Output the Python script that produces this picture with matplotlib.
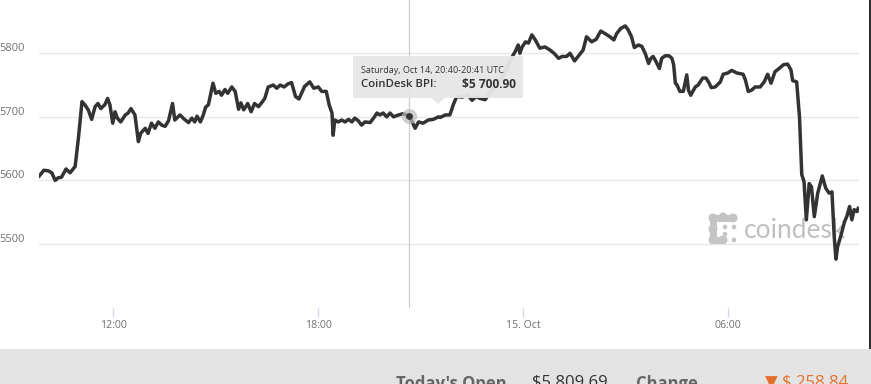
import matplotlib
matplotlib.use("Agg")
import matplotlib.pyplot as plt
from matplotlib.patches import Rectangle, Polygon, Circle
from matplotlib.transforms import ScaledTranslation

plt.rcParams['font.family'] = ['Open Sans', 'DejaVu Sans']

# minutes since 2017-10-14 00:00 UTC
minutes = [590, 598, 606, 612, 618, 623, 629, 637, 644, 653, 659, 665, 670, 676, 682, 688, 693, 698,
           705, 710, 714, 719, 723, 727, 733, 741, 746, 751, 758, 764, 768, 776, 781, 787, 793, 799,
           805, 811, 817, 824, 828, 837, 845, 852, 858, 863, 867, 873, 878, 882, 887, 895, 900, 906,
           910, 916, 921, 928, 934, 940, 944, 949, 956, 962, 968, 975, 982, 986, 992, 1001, 1007,
           1013, 1020, 1027, 1033, 1040, 1046, 1056, 1065, 1072, 1080, 1086, 1094, 1099, 1104, 1106,
           1109, 1115, 1121, 1127, 1133, 1139, 1144, 1150, 1156, 1162, 1171, 1177, 1183, 1188, 1194,
           1200, 1206, 1212, 1221, 1229, 1240, 1250, 1256, 1264, 1273, 1282, 1291, 1294, 1303, 1311,
           1317, 1323, 1332, 1343, 1350, 1357, 1364, 1373, 1382, 1394, 1405, 1414, 1422, 1426, 1431,
           1434, 1438, 1444, 1449, 1455, 1461, 1469, 1478, 1487, 1494, 1502, 1508, 1516, 1522, 1530,
           1538, 1545, 1551, 1560, 1568, 1576, 1587, 1592, 1599, 1604, 1611, 1619, 1624, 1630, 1635,
           1642, 1648, 1654, 1660, 1664, 1668, 1673, 1679, 1683, 1689, 1696, 1701, 1704, 1707, 1710,
           1715, 1721, 1727, 1730, 1734, 1742, 1747, 1755, 1761, 1767, 1770, 1777, 1786, 1791, 1799,
           1806, 1815, 1826, 1830, 1835, 1841, 1847, 1856, 1863, 1869, 1875, 1882, 1889, 1897, 1904,
           1910, 1913, 1920, 1925, 1929, 1933, 1937, 1942, 1946, 1951, 1957, 1965, 1971, 1977, 1982,
           1986, 1989, 1992, 1998, 2004, 2008, 2013, 2017, 2021, 2026, 2028]
prices = [5607, 5616, 5615, 5612, 5600, 5604, 5605, 5618, 5612, 5622, 5669, 5724, 5719, 5711, 5696,
          5716, 5721, 5713, 5719, 5729, 5719, 5690, 5708, 5698, 5692, 5703, 5706, 5713, 5703, 5661,
          5674, 5682, 5674, 5690, 5682, 5692, 5687, 5685, 5694, 5721, 5695, 5703, 5696, 5691, 5698,
          5692, 5701, 5692, 5703, 5715, 5719, 5753, 5737, 5740, 5734, 5743, 5737, 5747, 5740, 5712,
          5722, 5711, 5721, 5708, 5721, 5716, 5724, 5729, 5747, 5750, 5745, 5750, 5747, 5752, 5754,
          5732, 5728, 5748, 5755, 5745, 5747, 5740, 5740, 5719, 5706, 5671, 5695, 5692, 5695, 5692,
          5696, 5692, 5698, 5694, 5687, 5692, 5691, 5698, 5706, 5703, 5706, 5700, 5706, 5700, 5703,
          5705, 5700.9, 5682, 5692, 5690, 5695, 5696, 5700, 5699, 5703, 5703, 5719, 5732, 5731, 5734,
          5726, 5732, 5729, 5727, 5739, 5750, 5766, 5782, 5797, 5803, 5813, 5800, 5810, 5818, 5816,
          5829, 5821, 5808, 5810, 5805, 5800, 5792, 5795, 5795, 5800, 5788, 5797, 5805, 5826, 5818,
          5822, 5835, 5829, 5826, 5821, 5831, 5839, 5843, 5837, 5826, 5809, 5813, 5811, 5800, 5784,
          5792, 5795, 5787, 5776, 5792, 5796, 5796, 5792, 5782, 5753, 5750, 5740, 5740, 5766, 5742,
          5734, 5747, 5750, 5761, 5761, 5752, 5746, 5747, 5755, 5767, 5769, 5773, 5769, 5767, 5758,
          5740, 5742, 5747, 5747, 5755, 5767, 5753, 5771, 5776, 5782, 5783, 5774, 5757, 5755, 5700,
          5609, 5598, 5538, 5595, 5590, 5543, 5580, 5607, 5588, 5580, 5582, 5511, 5476, 5496, 5514,
          5535, 5543, 5559, 5538, 5554, 5551, 5556]

y_ticks = [5500, 5600, 5700, 5800]
x_ticks = [720, 1080, 1440, 1800]
x_tick_labels = ["12:00", "18:00", "15. Oct", "06:00"]

hover_minute = 1240
hover_price = 5700.90
tooltip_title = "Saturday, Oct 14, 20:40-20:41 UTC"
tooltip_series = "CoinDesk BPI:"
tooltip_value = "$5 700.90"

footer_labels = ["Today's Open", "Change"]
footer_values = ["$5 809.69", "▼ $ 258.84"]

W, H = 871, 384
fig = plt.figure(figsize=(W / 100, H / 100), dpi=100)
fig.patch.set_facecolor('white')

def fx(px):
    return px / W

def fy(py):
    return 1 - py / H

ax = fig.add_axes([fx(39), fy(308), fx(820), 308 / H])
ax.set_xlim(589.5, 2029.5)
ax.set_ylim(5399.3, 5883.8)
for s in ax.spines.values():
    s.set_visible(False)

ax.set_yticks(y_ticks)
ax.set_yticklabels([str(v) for v in y_ticks])
ax.yaxis.grid(True, color='#e6e6e6', linewidth=0.9)
ax.set_axisbelow(True)
ax.tick_params(axis='y', length=0, pad=10.5, labelsize=8, labelcolor='#707070')
for lab in ax.get_yticklabels():
    lab.set_transform(lab.get_transform() + ScaledTranslation(0, 6 / 100, fig.dpi_scale_trans))

ax.set_xticks(x_ticks)
ax.set_xticklabels(x_tick_labels)
ax.tick_params(axis='x', length=6.5, width=0.9, color='#ccd6eb', pad=2,
               labelsize=7.6, labelcolor='#707070')

# crosshair
ax.axvline(hover_minute, color='#cccccc', linewidth=0.9, zorder=1)

# watermark (drawn before line)
wm_ax = fig.add_axes([0, 0, 1, 1], zorder=0.5)
wm_ax.set_xlim(0, W)
wm_ax.set_ylim(H, 0)
wm_ax.axis('off')
big = [(713, 218), (723, 217), (733, 218), (713, 229), (713, 240), (723, 240)]
small = [(725, 227), (725, 234), (734, 227), (734, 240)]
wm_ax.plot([713, 733], [218, 218], color='#c4c4c4', linewidth=5, solid_capstyle='round')
wm_ax.plot([713, 713], [218, 240], color='#c4c4c4', linewidth=5, solid_capstyle='round')
wm_ax.plot([713, 723], [240, 240], color='#c4c4c4', linewidth=5, solid_capstyle='round')
for (cx, cy) in big:
    wm_ax.add_patch(Circle((cx, cy), 3.8, color='#c4c4c4'))
for (cx, cy) in small:
    wm_ax.add_patch(Circle((cx, cy), 1.6, color='#c4c4c4'))
wm_ax.text(744, 230, "coindesk", fontsize=19, color='#c0c0c0', ha='left', va='center',
           family=['Lato', 'DejaVu Sans'])

ax.set_zorder(1)
ax.patch.set_alpha(0)

ax.plot(minutes, prices, color='#333333', linewidth=2.5, solid_joinstyle='round', zorder=3)

# hover marker
ax.scatter([hover_minute], [hover_price], s=120, color='#bbbbbb', alpha=0.7, zorder=4, linewidths=0)
ax.scatter([hover_minute], [hover_price], s=24, color='#333333', zorder=5, linewidths=0)

# overlay axes in pixel coords
ov = fig.add_axes([0, 0, 1, 1], zorder=5)
ov.set_xlim(0, W)
ov.set_ylim(H, 0)
ov.axis('off')

# tooltip
ov.add_patch(Rectangle((353, 56), 170, 42, facecolor='#e6e6e6', edgecolor='none', alpha=0.96))
ov.add_patch(Polygon([[431, 98], [445, 98], [438, 104]], closed=True, facecolor='#e6e6e6',
                     edgecolor='none', alpha=0.96))
ov.text(361, 70.5, tooltip_title, fontsize=6.5, color='#333333', ha='left', va='center')
ov.text(361, 84.5, tooltip_series, fontsize=8.2, color='#333333', ha='left', va='center',
        fontweight='semibold')
ov.text(516, 84.5, tooltip_value, fontsize=8.6, color='#333333', ha='right', va='center',
        fontweight='bold')

# footer band
ov.add_patch(Rectangle((0, 348.5), W, H - 348.5, facecolor='#e3e3e3', edgecolor='none'))
# right dark border
ov.add_patch(Rectangle((868.5, 0), 3, 348.5, facecolor='#2e2e2e', edgecolor='none'))

ov.text(396, 375, footer_labels[0], fontsize=12, color='#666666', ha='left', va='top',
        fontweight='bold')
ov.text(532, 375, footer_values[0], fontsize=12, color='#333333', ha='left', va='top')
ov.text(636, 375, footer_labels[1], fontsize=12, color='#666666', ha='left', va='top',
        fontweight='bold')
ov.text(765, 375, footer_values[1], fontsize=12, color='#e2722b', ha='left', va='top')

fig.savefig('out.png', dpi=100)
